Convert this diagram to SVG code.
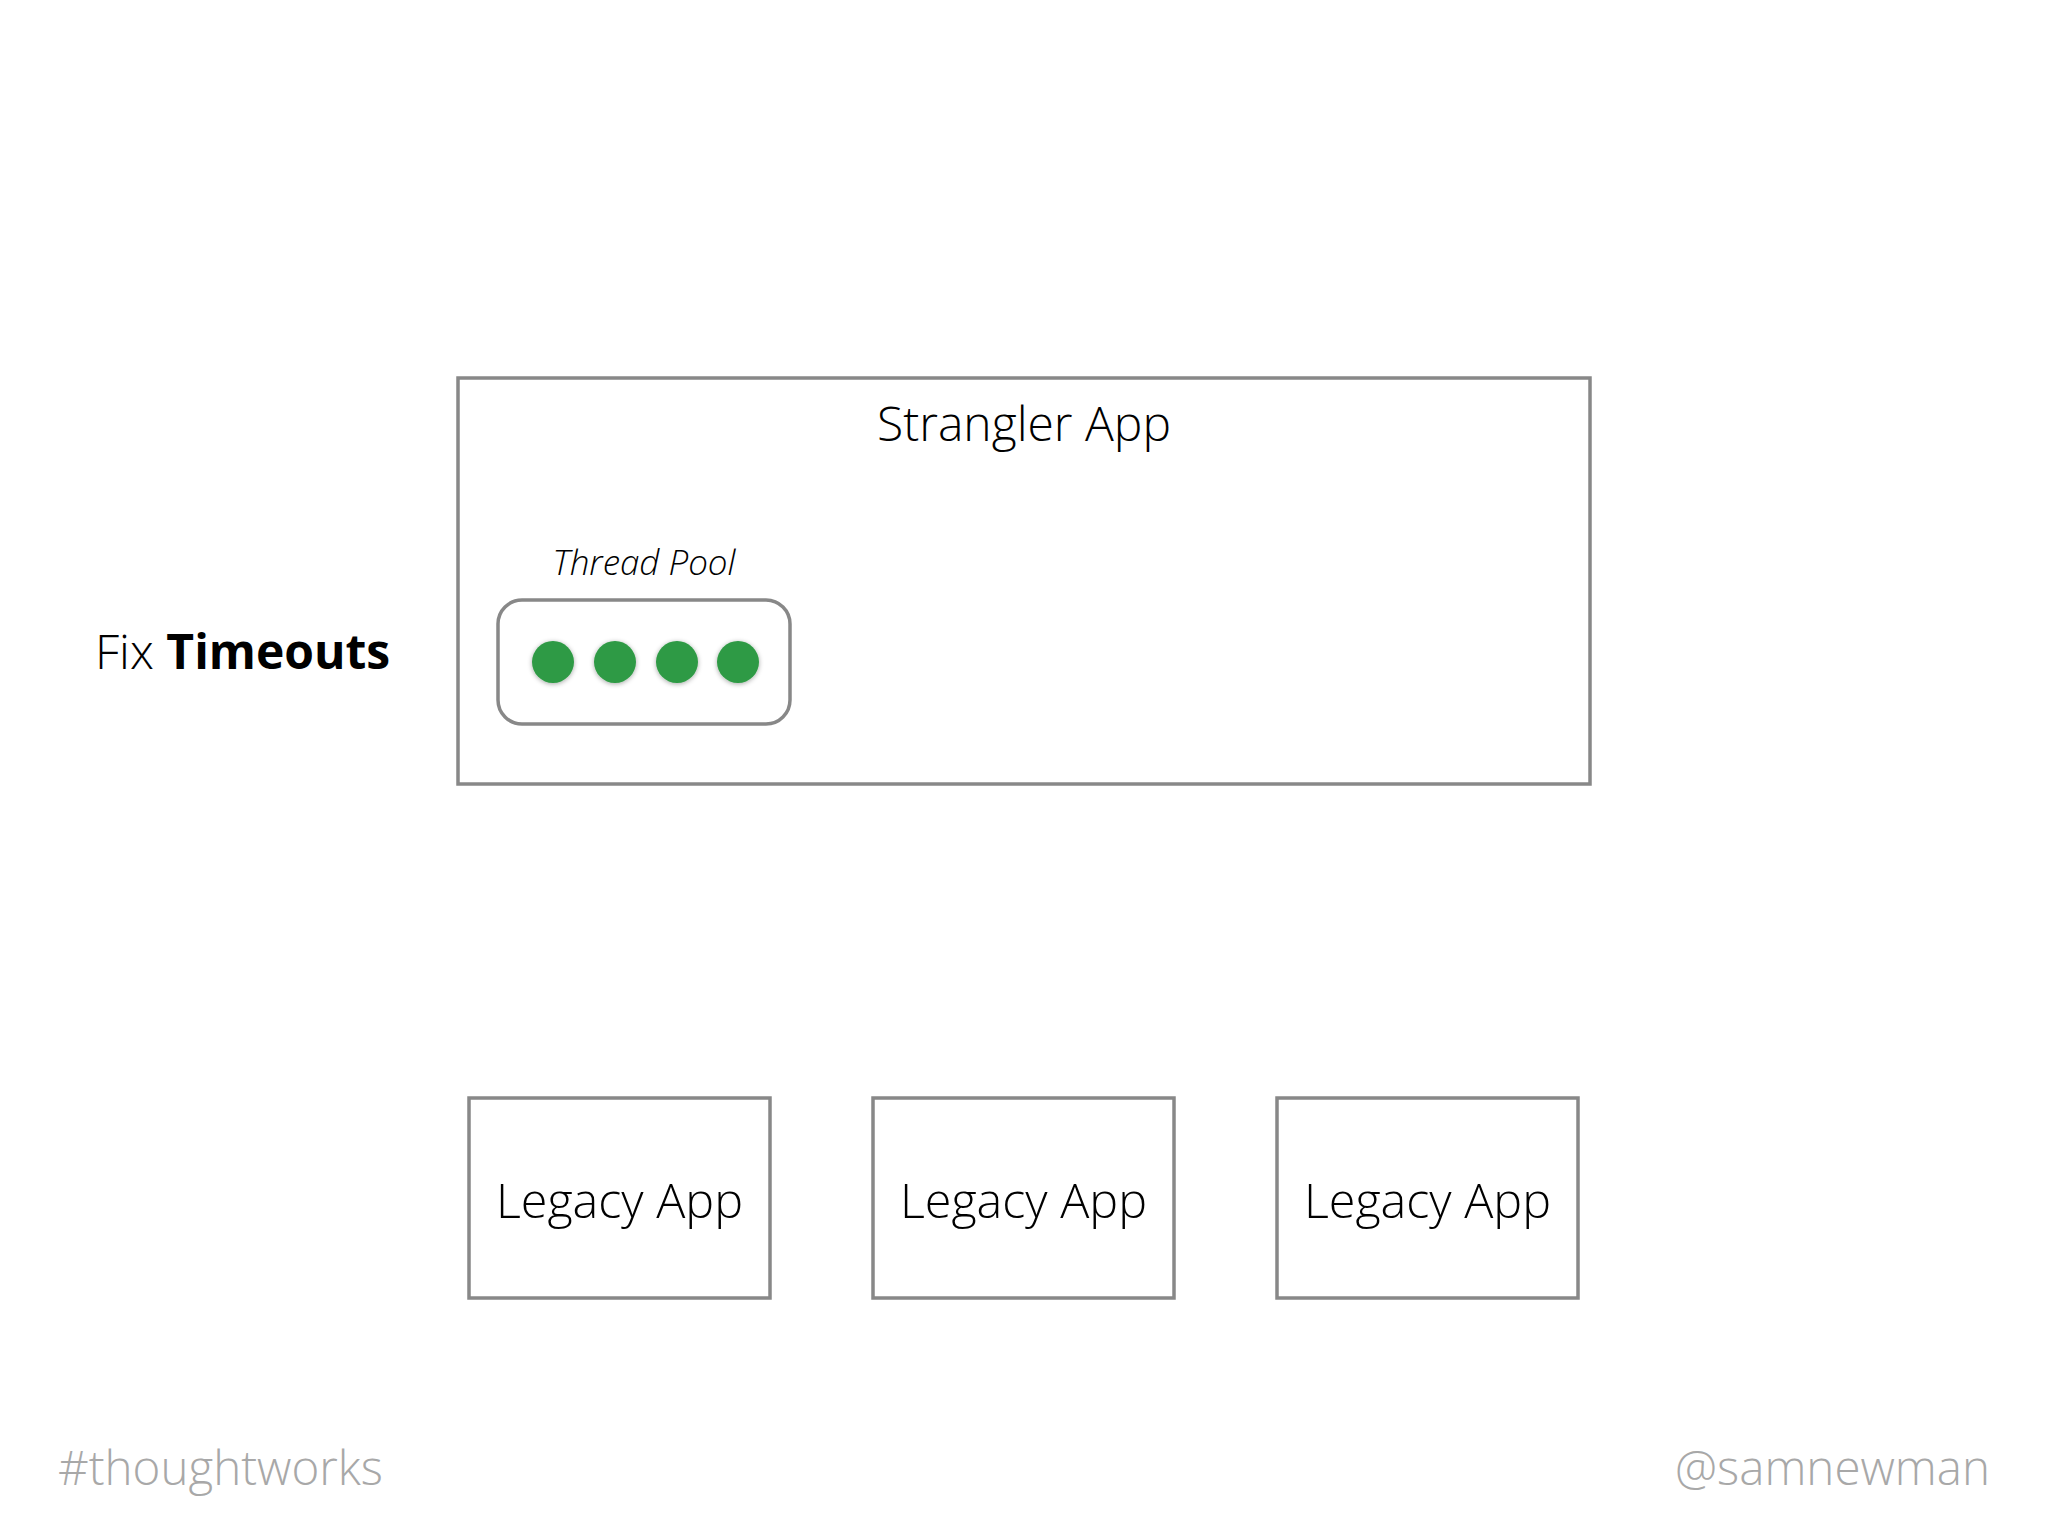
<svg xmlns="http://www.w3.org/2000/svg" width="2048" height="1536" viewBox="0 0 2048 1536">
<style>
.box{fill:#fff;stroke:#888;stroke-width:3.5}
.lt{font-family:"Open Sans","Liberation Sans",sans-serif;font-weight:300;fill:#000}
.foot{font-family:"Open Sans","Liberation Sans",sans-serif;font-weight:300;fill:#a8a8a8;font-size:47.5px}
.dot{fill:#2e9a44}
</style>
<defs>
<filter id="sh" x="-50%" y="-50%" width="200%" height="200%">
<feGaussianBlur in="SourceAlpha" stdDeviation="2.5"/>
<feOffset dx="0" dy="1" result="b"/>
<feComponentTransfer><feFuncA type="linear" slope="0.35"/></feComponentTransfer>
<feMerge><feMergeNode/><feMergeNode in="SourceGraphic"/></feMerge>
</filter>
</defs>
<rect width="2048" height="1536" fill="#fff"/>
<g id="strangler">
<rect class="box" x="458" y="378" width="1132" height="406"/>
<text class="lt" x="1024" y="441" font-size="48" text-anchor="middle">Strangler App</text>
</g>
<g id="threadpool">
<text class="lt" x="644" y="575" font-size="35" font-style="italic" text-anchor="middle">Thread Pool</text>
<rect class="box" x="498" y="600" width="292" height="124" rx="24"/>
<g filter="url(#sh)">
<circle class="dot" cx="553" cy="662" r="21"/>
<circle class="dot" cx="615" cy="662" r="21"/>
<circle class="dot" cx="677" cy="662" r="21"/>
<circle class="dot" cx="738" cy="662" r="21"/>
</g>
</g>
<g id="label">
<text class="lt" x="95" y="669" font-size="48">Fix <tspan font-weight="700">Timeouts</tspan></text>
</g>
<g id="legacy1">
<rect class="box" x="469" y="1098" width="301" height="200"/>
<text class="lt" x="619.5" y="1218" font-size="48.5" text-anchor="middle">Legacy App</text>
</g>
<g id="legacy2">
<rect class="box" x="873" y="1098" width="301" height="200"/>
<text class="lt" x="1023.5" y="1218" font-size="48.5" text-anchor="middle">Legacy App</text>
</g>
<g id="legacy3">
<rect class="box" x="1277" y="1098" width="301" height="200"/>
<text class="lt" x="1427.5" y="1218" font-size="48.5" text-anchor="middle">Legacy App</text>
</g>
<g id="connectors"></g>
<g id="footer">
<text class="foot" x="58" y="1485">#thoughtworks</text>
<text class="foot" x="1990" y="1485" text-anchor="end">@samnewman</text>
</g>
</svg>
